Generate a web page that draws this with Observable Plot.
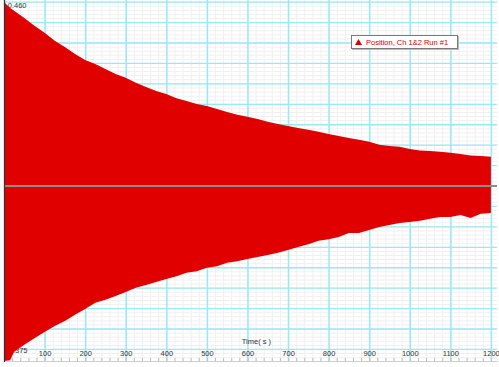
<!DOCTYPE html>
<html>
<head>
<meta charset="utf-8">
<script src="https://cdn.jsdelivr.net/npm/d3@7"></script>
<script src="https://cdn.jsdelivr.net/npm/@observablehq/plot@0.6"></script>
<style>
  html, body { margin: 0; padding: 0; background: #fff; }
  #wrap { position: relative; width: 499px; height: 367px; overflow: hidden; }
  #legend {
    position: absolute; left: 351px; top: 35px; width: 105px; height: 12px;
    border: 1px solid #7a7a7a; box-shadow: 1px 1px 0 #bbb; background: #fff;
    font-family: "Liberation Sans", Arial, sans-serif; font-size: 7.5px; color: #d40000;
    display: flex; align-items: center; white-space: nowrap;
  }
  #legend svg { margin: 0 4px 0 3px; }
</style>
</head>
<body>
<div id="wrap"></div>
<script>
// Time samples (s)
const time = [0, 15, 25, 50, 75, 100, 125, 150, 175, 200, 225, 250, 275, 300, 325, 350, 375, 400,
  425, 450, 475, 500, 525, 550, 575, 600, 625, 650, 675, 700, 725, 750, 775, 800, 825, 850, 875,
  900, 925, 950, 975, 1000, 1025, 1050, 1075, 1100, 1125, 1150, 1175, 1200];
// Upper envelope of the oscillation (position)
const upper = [0.459, 0.445, 0.438, 0.421, 0.402, 0.385, 0.366, 0.351, 0.334, 0.320, 0.310, 0.298,
  0.286, 0.277, 0.265, 0.255, 0.245, 0.238, 0.228, 0.221, 0.214, 0.209, 0.202, 0.195, 0.188, 0.183,
  0.178, 0.171, 0.166, 0.161, 0.156, 0.152, 0.147, 0.142, 0.137, 0.132, 0.128, 0.123, 0.116, 0.113,
  0.111, 0.106, 0.102, 0.101, 0.099, 0.097, 0.094, 0.090, 0.089, 0.087];
// Lower envelope of the oscillation (position)
const lower = [-0.404, -0.402, -0.382, -0.365, -0.349, -0.334, -0.320, -0.308, -0.293, -0.279, -0.264,
  -0.257, -0.248, -0.238, -0.228, -0.221, -0.214, -0.207, -0.200, -0.192, -0.188, -0.180, -0.176,
  -0.168, -0.164, -0.159, -0.154, -0.149, -0.144, -0.137, -0.130, -0.123, -0.115, -0.111, -0.106,
  -0.096, -0.096, -0.089, -0.082, -0.077, -0.072, -0.070, -0.067, -0.062, -0.058, -0.058, -0.053,
  -0.060, -0.050, -0.048];

const xTicks = [100, 200, 300, 400, 500, 600, 700, 800, 900, 1000, 1100, 1200];
const yTopLabel = [0.460];
const yBottomLabel = [-0.375];
const xLabel = "Time( s )";
const seriesName = "Position, Ch 1&2 Run #1";

const yMin = -0.404, yMax = 0.464;
const yGrid = d3.range(18).map(k => 0.460 - k * (0.835 / 17));
const yMinor = d3.range(18 * 5).map(k => 0.460 - k * (0.835 / 85)).filter(v => v > yMin);
const xGrid = d3.range(0, 1201, 100);
const xMinor = d3.range(0, 1215, 20);
const centerLine = [yGrid[9]];

const data = time.map((t, i) => ({t, hi: upper[i], lo: lower[i]}));
const font = "Liberation Sans, Arial, sans-serif";

const chart = Plot.plot({
  width: 499,
  height: 367,
  marginLeft: 4,
  marginRight: 2,
  marginTop: 0,
  marginBottom: 6,
  style: {background: "#fff", fontFamily: font, fontSize: "7.5px"},
  x: {domain: [0, 1215], axis: null},
  y: {domain: [yMin, yMax], axis: null},
  marks: [
    Plot.ruleX(xMinor, {stroke: "#f0f0f0", strokeWidth: 1}),
    Plot.ruleY(yMinor, {stroke: "#f0f0f0", strokeWidth: 1}),
    Plot.ruleX(xGrid, {stroke: "#97e9f2", strokeWidth: 1.5}),
    Plot.ruleY(yGrid, {stroke: "#97e9f2", strokeWidth: 1.3}),
    Plot.text(yTopLabel, {y: d => d, frameAnchor: "left", dx: 22, dy: 3, textAnchor: "end",
      text: d => d.toFixed(3), fill: "#333", fontSize: 7.5}),
    Plot.text(yBottomLabel, {y: d => d, frameAnchor: "left", dx: 23, dy: 1, textAnchor: "end",
      text: d => d.toFixed(3), fill: "#333", fontSize: 7.5}),
    Plot.areaY(data, {x: "t", y1: "lo", y2: "hi", fill: "#e00000", curve: "linear"}),
    Plot.ruleY(centerLine, {stroke: "#8c8c8c", strokeWidth: 2}),
    Plot.text(xTicks, {x: d => d, frameAnchor: "bottom", dy: -6, text: d => String(d),
      fill: "#333", fontSize: 7.5}),
    Plot.text([xLabel], {x: 621, frameAnchor: "bottom", dy: -18, text: d => d,
      fill: "#333", fontSize: 7.5}),
    Plot.axisX({ticks: xMinor, tickSize: 3, dy: -3, tickFormat: () => "", label: null,
      stroke: "#bbb"}),
    Plot.frame({anchor: "bottom", stroke: "#d0d0d0"}),
    Plot.frame({anchor: "left", stroke: "#333", strokeWidth: 1.2})
  ]
});

const wrap = document.getElementById("wrap");
wrap.appendChild(chart);
const legend = document.createElement("div");
legend.id = "legend";
legend.innerHTML = '<svg width="7" height="6"><polygon points="3.5,0 7,6 0,6" fill="#d40000"/></svg>';
const span = document.createElement("span");
span.textContent = seriesName;
legend.appendChild(span);
wrap.appendChild(legend);
</script>
</body>
</html>
